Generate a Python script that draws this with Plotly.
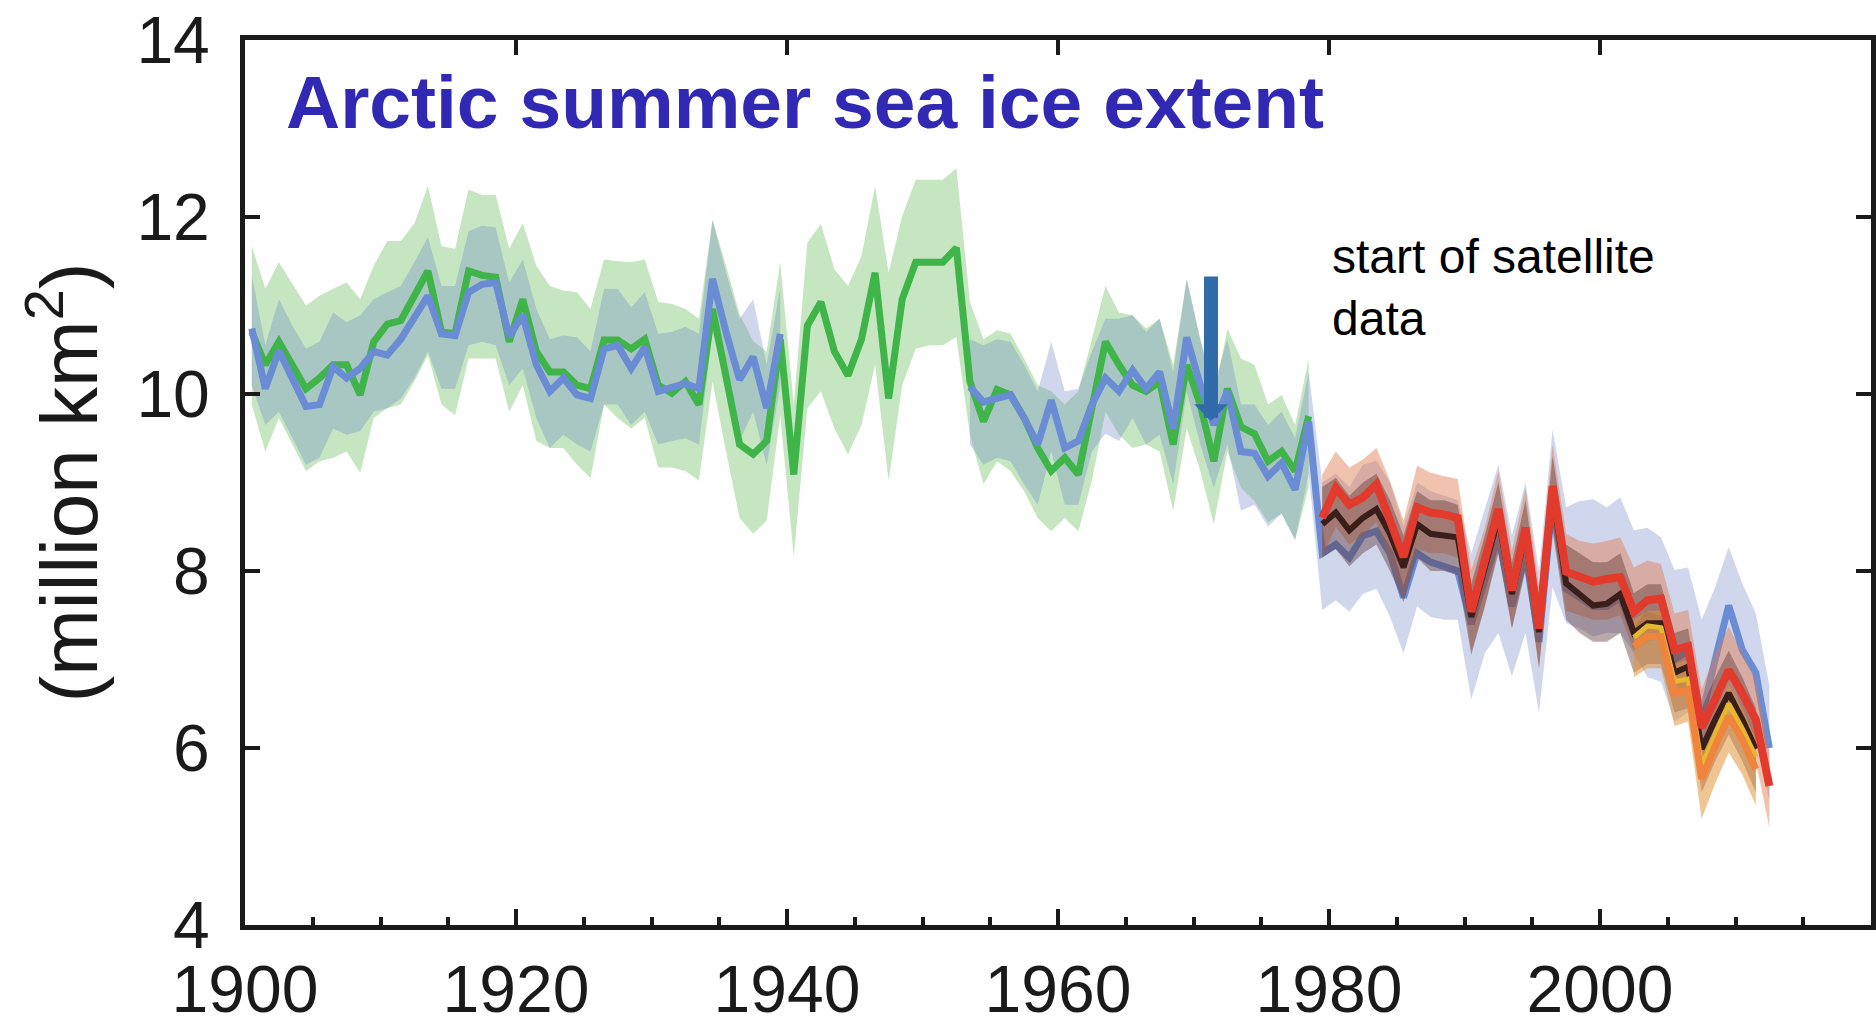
import plotly.graph_objects as go

# ---------------- data (million km^2) ----------------
YEARS_GREEN = list(range(1900, 1979))
GREEN = [10.70, 10.33, 10.59, 10.33, 10.06, 10.18, 10.33, 10.33, 9.99, 10.59,
         10.79, 10.83, 11.11, 11.39, 10.70, 10.68, 11.39, 11.34, 11.32, 10.59,
         11.07, 10.48, 10.25, 10.25, 10.10, 10.06, 10.61, 10.61, 10.51, 10.62,
         10.10, 10.01, 10.14, 9.88, 10.96, 10.20, 9.43, 9.32, 9.47, 10.62,
         9.09, 10.77, 11.04, 10.48, 10.21, 10.62, 11.37, 9.95, 11.07, 11.49,
         11.49, 11.49, 11.65, 10.14, 9.69, 10.05, 9.99, 9.73, 9.39, 9.13,
         9.28, 9.09, 9.84, 10.59, 10.33, 10.10, 10.03, 10.14, 9.43, 10.33,
         9.88, 9.24, 10.06, 9.63, 9.55, 9.24, 9.35, 9.13, 9.75]
GREEN_HI = [11.67, 11.19, 11.49, 11.24, 11.00, 11.11, 11.19, 11.26, 11.07, 11.45,
            11.73, 11.73, 11.93, 12.35, 11.67, 11.64, 12.31, 12.25, 12.25, 11.64,
            11.93, 11.45, 11.22, 11.17, 11.15, 10.96, 11.52, 11.50, 11.49, 11.52,
            11.04, 11.02, 10.96, 10.85, 11.97, 11.45, 10.90, 10.60, 10.48, 11.49,
            9.88, 11.71, 11.92, 11.41, 11.22, 11.56, 12.35, 11.37, 12.01, 12.42,
            12.42, 12.42, 12.55, 11.04, 10.62, 10.72, 10.68, 10.40, 10.10, 10.03,
            9.88, 10.03, 10.62, 11.22, 10.92, 10.89, 10.74, 10.85, 10.33, 11.30,
            10.62, 9.95, 10.74, 10.40, 10.33, 9.88, 9.99, 9.65, 10.40]
GREEN_LO = [9.88, 9.35, 9.73, 9.43, 9.13, 9.24, 9.28, 9.35, 9.11, 9.73,
            9.84, 9.88, 10.14, 10.44, 9.88, 9.76, 10.40, 10.40, 10.40, 9.80,
            10.10, 9.47, 9.39, 9.39, 9.20, 9.05, 9.88, 9.73, 9.61, 9.73,
            9.17, 9.17, 9.13, 9.02, 10.14, 9.35, 8.60, 8.42, 8.57, 9.76,
            8.16, 9.84, 10.03, 9.61, 9.32, 9.65, 10.33, 9.02, 10.10, 10.51,
            10.55, 10.55, 10.64, 9.54, 8.98, 9.24, 9.13, 8.90, 8.60, 8.45,
            8.60, 8.45, 9.02, 9.80, 9.54, 9.39, 9.43, 9.35, 8.68, 9.61,
            9.13, 8.53, 9.35, 8.94, 8.79, 8.55, 8.65, 8.35, 8.95]

YEARS_BLUE_A = list(range(1900, 1940))
BLUE_A = [10.74, 10.06, 10.49, 10.18, 9.86, 9.88, 10.31, 10.18, 10.29, 10.48,
          10.44, 10.62, 10.85, 11.11, 10.68, 10.66, 11.15, 11.24, 11.26, 10.65,
          10.89, 10.33, 10.03, 10.18, 9.99, 9.95, 10.51, 10.55, 10.29, 10.53,
          10.03, 10.08, 10.12, 10.06, 11.30, 10.70, 10.16, 10.42, 9.84, 10.68]
BLUE_A_HI = [11.34, 10.55, 11.07, 10.77, 10.51, 10.59, 10.92, 10.81, 10.89, 11.07,
             11.15, 11.22, 11.49, 11.77, 11.22, 11.22, 11.84, 11.90, 11.88, 11.26,
             11.52, 10.96, 10.62, 10.66, 10.64, 10.48, 11.19, 11.19, 10.98, 11.15,
             10.68, 10.70, 10.76, 10.68, 11.97, 11.37, 10.85, 11.07, 10.33, 11.20]
BLUE_A_LO = [10.10, 9.65, 9.80, 9.50, 9.20, 9.28, 9.61, 9.54, 9.58, 9.80,
             9.84, 9.95, 10.18, 10.48, 10.06, 10.06, 10.55, 10.59, 10.55, 10.10,
             10.29, 9.73, 9.39, 9.54, 9.43, 9.35, 9.88, 9.88, 9.65, 9.80,
             9.43, 9.47, 9.50, 9.43, 10.70, 10.10, 9.47, 9.80, 9.20, 10.10]

YEARS_BLUE_B = list(range(1953, 2013))
BLUE_B = [10.08, 9.91, 9.95, 9.99, 9.73, 9.43, 9.93, 9.39, 9.47, 9.88,
          10.18, 10.03, 10.27, 10.06, 10.25, 9.61, 10.64, 10.10, 9.65, 10.03,
          9.35, 9.33, 9.07, 9.22, 8.92, 9.69, 8.20, 8.30, 8.15, 8.40,
          8.45, 8.20, 7.70, 8.20, 8.10, 8.05, 8.00, 7.40, 7.90, 8.40,
          7.60, 8.20, 7.20, 8.80, 7.80, 7.70, 7.60, 7.60, 7.70, 7.30,
          7.50, 7.45, 7.00, 7.10, 6.35, 7.00, 7.61, 7.11, 6.85, 6.00]
BLUE_B_HI = [10.62, 10.55, 10.62, 10.59, 10.33, 10.03, 10.59, 10.03, 10.06, 10.48,
             10.85, 10.85, 10.89, 10.70, 10.85, 10.25, 11.30, 10.62, 10.10, 10.62,
             9.88, 9.88, 9.65, 9.80, 9.50, 10.25, 9.00, 9.10, 8.95, 9.20,
             9.25, 9.00, 8.50, 9.00, 8.90, 8.85, 8.80, 8.20, 8.70, 9.20,
             8.40, 9.00, 8.00, 9.60, 8.72, 8.79, 8.81, 8.72, 8.83, 8.46,
             8.49, 8.38, 8.01, 8.04, 7.45, 7.82, 8.27, 7.86, 7.52, 6.70]
BLUE_B_LO = [9.43, 9.20, 9.28, 9.24, 8.98, 8.75, 9.35, 8.75, 8.75, 9.35,
             9.55, 9.47, 9.73, 9.43, 9.54, 8.98, 10.03, 9.43, 8.94, 9.43,
             8.68, 8.75, 8.50, 8.65, 8.35, 9.10, 7.56, 7.67, 7.54, 7.74,
             7.80, 7.48, 7.07, 7.60, 7.48, 7.45, 7.45, 6.55, 7.07, 7.30,
             6.81, 7.30, 6.40, 7.82, 7.41, 7.35, 7.26, 7.30, 7.30, 7.07,
             6.80, 6.75, 6.30, 6.40, 5.70, 6.30, 6.90, 6.40, 6.10, 5.40]

YEARS_RED = list(range(1979, 2013))
RED = [8.60, 8.94, 8.75, 8.83, 8.98, 8.57, 8.16, 8.72, 8.66, 8.64,
       8.60, 7.54, 8.08, 8.70, 7.78, 8.49, 7.35, 8.96, 7.99, 7.93,
       7.88, 7.91, 7.93, 7.54, 7.67, 7.69, 7.11, 7.15, 6.23, 6.55,
       6.88, 6.62, 6.32, 5.57]
RED_HI = [9.09, 9.35, 9.17, 9.26, 9.39, 9.02, 8.57, 9.19, 9.11, 9.07,
          9.04, 8.01, 8.49, 9.13, 8.23, 8.94, 7.82, 9.43, 8.42, 8.34,
          8.31, 8.34, 8.38, 8.04, 8.12, 8.08, 7.52, 7.56, 6.66, 7.07,
          7.37, 7.07, 6.77, 5.95]
RED_LO = [8.15, 8.50, 8.30, 8.40, 8.55, 8.10, 7.70, 8.25, 8.20, 8.20,
          8.15, 7.10, 7.60, 8.25, 7.35, 8.05, 6.90, 8.50, 7.55, 7.50,
          7.45, 7.45, 7.50, 7.10, 7.20, 7.25, 6.65, 6.70, 5.80, 6.10,
          6.45, 6.15, 5.85, 5.10]

YEARS_BLACK = list(range(1979, 2012))
BLACK = [8.53, 8.66, 8.46, 8.60, 8.70, 8.42, 8.04, 8.53, 8.42, 8.40,
         8.38, 7.48, 8.04, 8.60, 7.74, 8.42, 7.31, 8.89, 7.86, 7.74,
         7.61, 7.63, 7.74, 7.30, 7.41, 7.41, 6.85, 6.92, 5.99, 6.32,
         6.62, 6.32, 5.99]
BLACK_HI = [8.95, 9.05, 8.85, 9.00, 9.10, 8.80, 8.40, 8.90, 8.80, 8.80,
            8.75, 7.85, 8.40, 9.00, 8.10, 8.80, 7.70, 9.30, 8.30, 8.20,
            8.10, 8.10, 8.20, 7.75, 7.85, 7.85, 7.30, 7.35, 6.45, 6.80,
            7.10, 6.80, 6.45]
BLACK_LO = [8.15, 8.25, 8.05, 8.20, 8.30, 8.00, 7.65, 8.15, 8.00, 8.00,
            7.95, 7.05, 7.60, 8.20, 7.35, 8.00, 6.90, 8.45, 7.45, 7.30,
            7.20, 7.20, 7.30, 6.85, 6.95, 6.95, 6.40, 6.45, 5.50, 5.85,
            6.15, 5.85, 5.50]

YEARS_RECENT = list(range(2002, 2012))
ORANGE = [7.15, 7.26, 7.26, 6.62, 6.66, 5.65, 6.02, 6.36, 6.10, 5.76]
ORANGE_HI = [7.45, 7.55, 7.55, 6.95, 7.00, 6.00, 6.40, 6.70, 6.45, 6.10]
ORANGE_LO = [6.80, 6.90, 6.90, 6.25, 6.30, 5.20, 5.60, 5.95, 5.70, 5.35]
YELLOW = [7.25, 7.38, 7.36, 6.75, 6.78, 5.80, 6.15, 6.50, 6.22, 5.90]

X_TICKS = [1900, 1920, 1940, 1960, 1980, 2000]
Y_TICKS = [4, 6, 8, 10, 12, 14]

TITLE = "Arctic summer sea ice extent"
NOTE = "start of satellite<br>data"
Y_TITLE = "(million km<sup>2</sup>)"


def mid(years):
    # annual values are drawn at mid-year
    return [y + 0.5 for y in years]


def band(years, lo, hi, color):
    xs = mid(years)
    return go.Scatter(x=xs + xs[::-1], y=list(hi) + list(lo)[::-1],
                      fill="toself", fillcolor=color, mode="lines",
                      line=dict(width=0, color="rgba(0,0,0,0)"),
                      hoverinfo="skip", showlegend=False)


def line(years, vals, color, width):
    return go.Scatter(x=mid(years), y=vals, mode="lines",
                      line=dict(color=color, width=width),
                      hoverinfo="skip", showlegend=False)


fig = go.Figure()
# bands (back to front)
fig.add_trace(band(YEARS_GREEN, GREEN_LO, GREEN_HI, "rgba(140,205,130,0.5)"))
fig.add_trace(band(YEARS_BLUE_A, BLUE_A_LO, BLUE_A_HI, "rgba(110,130,200,0.32)"))
fig.add_trace(band(YEARS_BLUE_B, BLUE_B_LO, BLUE_B_HI, "rgba(110,130,200,0.32)"))
# early lines
fig.add_trace(line(YEARS_GREEN, GREEN, "#3EB449", 7))
fig.add_trace(line(YEARS_BLUE_A, BLUE_A, "#6A8CD4", 7))
fig.add_trace(line(YEARS_BLUE_B, BLUE_B, "#6A8CD4", 7))
# satellite-era bands
fig.add_trace(band(YEARS_RED, RED_LO, RED_HI, "rgba(225,120,75,0.45)"))
fig.add_trace(band(YEARS_BLACK, BLACK_LO, BLACK_HI, "rgba(90,50,50,0.42)"))
fig.add_trace(band(YEARS_RECENT, ORANGE_LO, ORANGE_HI, "rgba(225,150,60,0.55)"))
# satellite-era lines
fig.add_trace(line(YEARS_BLACK, BLACK, "#3A1E1A", 6))
fig.add_trace(line(YEARS_RECENT, YELLOW, "#E6B82E", 5))
fig.add_trace(line(YEARS_RECENT, ORANGE, "#F0843C", 7))
fig.add_trace(line(YEARS_RED, RED, "#E23A2C", 8))
# invisible trace to carry the top tick axis
fig.add_trace(go.Scatter(x=[X_TICKS[0]], y=[Y_TICKS[0]], xaxis="x2", mode="markers",
                         marker=dict(opacity=0), hoverinfo="skip", showlegend=False))

AX = "#1a1a1a"
TICK_FONT = dict(family="Liberation Sans, Arial", size=66, color=AX)

fig.update_layout(
    width=1876, height=1027,
    margin=dict(l=245, r=5, t=40, b=102),
    plot_bgcolor="white", paper_bgcolor="white",
    showlegend=False,
    xaxis=dict(range=[1900, 2020], tickmode="array", tickvals=X_TICKS,
               ticktext=[str(v) for v in X_TICKS],
               ticks="inside", ticklen=16, tickwidth=4, tickcolor=AX,
               minor=dict(tickmode="linear", tick0=1900, dtick=5, ticks="inside",
                          ticklen=8, tickwidth=4, tickcolor=AX, showgrid=False),
               showline=True, linewidth=5, linecolor=AX, mirror=True,
               showgrid=False, zeroline=False, tickfont=TICK_FONT,
               ticklabelstandoff=3, automargin=False),
    xaxis2=dict(range=[1900, 2020], overlaying="x", side="top", tickmode="array",
                tickvals=X_TICKS, ticks="inside", ticklen=15, tickwidth=4,
                tickcolor=AX, showticklabels=False, showline=False,
                showgrid=False, zeroline=False, automargin=False),
    yaxis=dict(range=[4, 14], tickmode="array", tickvals=Y_TICKS,
               ticks="inside", ticklen=15, tickwidth=4, tickcolor=AX,
               showline=True, linewidth=5, linecolor=AX, mirror="ticks",
               showgrid=False, zeroline=False, tickfont=TICK_FONT,
               ticklabelstandoff=17, automargin=False,
               title=dict(text=Y_TITLE, standoff=14,
                          font=dict(family="Liberation Sans, Arial", size=80, color=AX))),
    annotations=[
        dict(text="<b>" + TITLE + "</b>", xref="x", yref="y", x=1902.88, y=13.30,
             xanchor="left", yanchor="middle", showarrow=False,
             font=dict(family="Liberation Sans, Arial", size=75, color="#3129B3")),
        dict(text=NOTE, xref="x", yref="y", x=1980.07, y=11.20,
             xanchor="left", yanchor="middle", align="left", showarrow=False,
             font=dict(family="Liberation Sans, Arial", size=48, color="black")),
        dict(text="", xref="x", yref="y", x=1971.29, y=9.695,
             axref="x", ayref="y", ax=1971.29, ay=11.345,
             showarrow=True, arrowhead=1, arrowsize=0.4, arrowwidth=14,
             arrowcolor="#2F6CA9"),
    ],
)

fig.write_html("out.html")
